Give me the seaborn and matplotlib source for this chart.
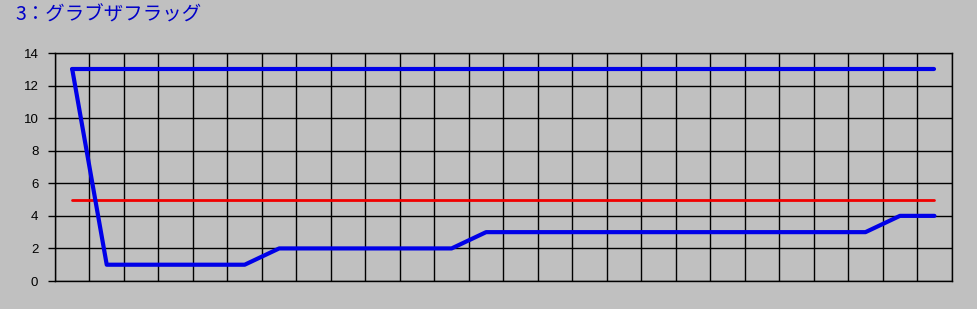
import matplotlib
matplotlib.use("Agg")
import matplotlib.pyplot as plt
import seaborn as sns
import pandas as pd
import numpy as np

# Data
rounds = list(range(26))
top_line = [13] * 26
ref_line = [5] * 26
rank_line = [13, 1, 1, 1, 1, 1, 2, 2, 2, 2, 2, 2, 3, 3, 3, 3, 3, 3, 3, 3, 3, 3, 3, 3, 4, 4]
y_ticks = [0, 2, 4, 6, 8, 10, 12, 14]
title = "3：グラブザフラッグ"

sns.set_theme(style="white")
plt.rcParams['font.family'] = ['Liberation Sans', 'Noto Sans CJK JP', 'DejaVu Sans']

bg = "#C0C0C0"
fig = plt.figure(figsize=(9.77, 3.09), dpi=100, facecolor=bg)
ax = fig.add_axes([55/977, 1 - 281/309, (951.7 - 55)/977, (281 - 53)/309])
ax.set_facecolor(bg)

df_top = pd.DataFrame({"x": rounds, "y": top_line})
df_ref = pd.DataFrame({"x": rounds, "y": ref_line})
df_rank = pd.DataFrame({"x": rounds, "y": rank_line})

sns.lineplot(data=df_ref, x="x", y="y", ax=ax, color="#F00000", linewidth=2, zorder=3)
sns.lineplot(data=df_top, x="x", y="y", ax=ax, color="#0000E8", linewidth=3, zorder=4)
sns.lineplot(data=df_rank, x="x", y="y", ax=ax, color="#0000E8", linewidth=3, zorder=4)

ax.set_xlim(-0.5, len(rounds) - 0.5)
ax.set_ylim(0, 14)
ax.set_yticks(y_ticks)
ax.set_yticklabels([str(v) for v in y_ticks], fontsize=9.5, color="black")
ax.set_xticks(np.arange(-0.5, len(rounds), 1.0))
ax.set_xticklabels([])
ax.tick_params(axis="x", length=0)
ax.tick_params(axis="y", length=5, width=1, color="black", pad=7, left=True)
ax.grid(True, color="black", linewidth=1)
ax.set_axisbelow(True)
for s in ax.spines.values():
    s.set_color("black")
    s.set_linewidth(1)
ax.set_xlabel("")
ax.set_ylabel("")

fig.text(15/977, 1 - 15/309, title, fontsize=14, color="#0000C8",
         ha="left", va="center", family=['Noto Sans CJK JP', 'DejaVu Sans'])

fig.savefig("out.png", dpi=100, facecolor=bg)
